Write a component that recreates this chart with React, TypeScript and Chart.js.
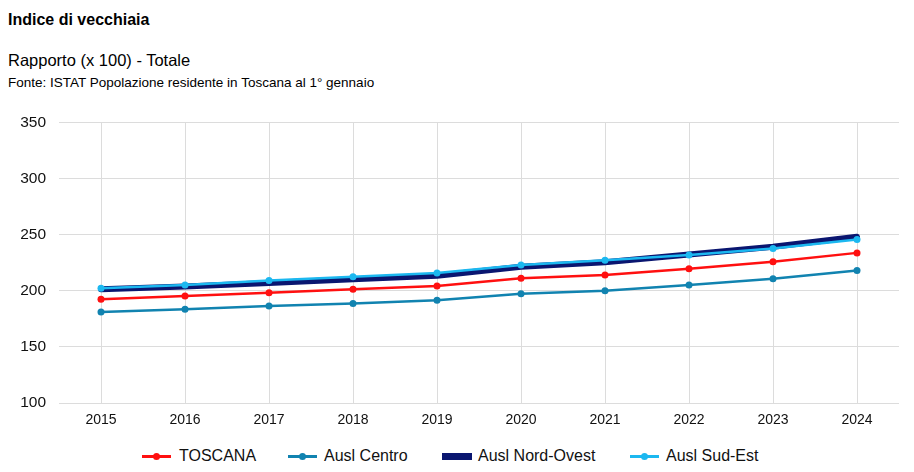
import React, { useEffect, useRef } from "react";
import { Chart, registerables } from "chart.js";

Chart.register(...registerables);

const years = ["2015", "2016", "2017", "2018", "2019", "2020", "2021", "2022", "2023", "2024"];
const toscana = [192.5, 195.2, 198.3, 201.2, 204.3, 211.2, 214.1, 219.5, 225.7, 233.7];
const auslCentro = [181.0, 183.6, 186.3, 188.7, 191.6, 197.2, 199.9, 205.0, 210.6, 218.0];
const auslNordOvest = [201.3, 203.8, 206.8, 210.2, 213.4, 221.3, 225.4, 232.3, 239.1, 248.0];
const auslSudEst = [202.3, 205.2, 209.2, 212.4, 215.7, 223.0, 227.2, 231.9, 237.6, 245.6];
const yTicks = [100, 150, 200, 250, 300, 350];

const seriesNames = ["TOSCANA", "Ausl Centro", "Ausl Nord-Ovest", "Ausl Sud-Est"];
const seriesColors = ["#ff1010", "#1183b0", "#0a1670", "#1cb8f0"];

const FONT = "'Liberation Sans', Arial, Helvetica, sans-serif";

export default function App() {
  const ref = useRef<HTMLCanvasElement | null>(null);

  useEffect(() => {
    if (!ref.current) return;
    const mk = (i: number, data: number[], extra: any = {}) => ({
      label: seriesNames[i],
      data,
      borderColor: seriesColors[i],
      backgroundColor: seriesColors[i],
      borderWidth: 2.5,
      pointRadius: 3.5,
      pointHoverRadius: 3.5,
      pointBorderWidth: 0,
      tension: 0,
      fill: false,
      order: 1,
      ...extra,
    });
    const chart = new Chart(ref.current, {
      type: "line",
      data: {
        labels: years,
        datasets: [
          mk(0, toscana),
          mk(1, auslCentro),
          mk(2, auslNordOvest, {
            borderWidth: 6,
            pointRadius: 0,
            borderCapStyle: "round",
            borderJoinStyle: "round",
            order: 5,
          }),
          mk(3, auslSudEst),
        ],
      },
      options: {
        animation: false,
        responsive: false,
        maintainAspectRatio: false,
        layout: { padding: { left: 0, right: 15, top: 22, bottom: 0 } },
        plugins: {
          legend: { display: false },
          tooltip: { enabled: false },
          title: { display: false },
        },
        scales: {
          x: {
            offset: true,
            grid: { offset: false, color: "#dcdcdc", lineWidth: 1, drawTicks: false },
            border: { display: false },
            ticks: {
              color: "#111",
              font: { family: FONT, size: 14 },
              padding: 9,
              maxRotation: 0,
            },
            afterFit: (s: any) => {
              s.height = 35;
            },
          },
          y: {
            min: 100,
            max: 350,
            grid: { color: "#dcdcdc", lineWidth: 1, drawTicks: false },
            border: { display: false },
            afterBuildTicks: (s: any) => {
              s.ticks = yTicks.map((v) => ({ value: v }));
            },
            ticks: {
              color: "#111",
              font: { family: FONT, size: 15.5 },
              padding: 13,
            },
            afterFit: (s: any) => {
              s.width = 59;
            },
          },
        },
      },
    });
    return () => chart.destroy();
  }, []);

  const legendItem = (i: number, left: number, textLeft: number) => {
    const isRect = i === 2;
    return (
      <React.Fragment key={i}>
        {isRect ? (
          <div
            style={{
              position: "absolute",
              left,
              top: 453,
              width: 30,
              height: 7,
              background: seriesColors[i],
            }}
          />
        ) : (
          <>
            <div
              style={{
                position: "absolute",
                left,
                top: 455,
                width: 29,
                height: 3,
                background: seriesColors[i],
              }}
            />
            <div
              style={{
                position: "absolute",
                left: left + 11,
                top: 453,
                width: 7,
                height: 7,
                borderRadius: "50%",
                background: seriesColors[i],
              }}
            />
          </>
        )}
        <div
          style={{
            position: "absolute",
            left: textLeft,
            top: 447,
            fontSize: 16,
            lineHeight: "18px",
            color: "#111",
            whiteSpace: "nowrap",
          }}
        >
          {seriesNames[i]}
        </div>
      </React.Fragment>
    );
  };

  return (
    <div
      style={{
        position: "absolute",
        left: 0,
        top: 0,
        width: 914,
        height: 472,
        background: "#fff",
        fontFamily: FONT,
        overflow: "hidden",
      }}
    >
      <div
        style={{
          position: "absolute",
          left: 8,
          top: 11.5,
          fontSize: 16,
          lineHeight: "16px",
          fontWeight: "bold",
          color: "#000",
          whiteSpace: "nowrap",
        }}
      >
        Indice di vecchiaia
      </div>
      <div
        style={{
          position: "absolute",
          left: 8,
          top: 52,
          fontSize: 16.5,
          lineHeight: "16.5px",
          color: "#000",
          whiteSpace: "nowrap",
        }}
      >
        Rapporto (x 100) - Totale
      </div>
      <div
        style={{
          position: "absolute",
          left: 8,
          top: 75.5,
          fontSize: 13.5,
          lineHeight: "13.5px",
          color: "#000",
          whiteSpace: "nowrap",
        }}
      >
        Fonte: ISTAT Popolazione residente in Toscana al 1° gennaio
      </div>
      <div style={{ position: "absolute", left: 0, top: 100, width: 914, height: 338 }}>
        <canvas ref={ref} width={914} height={338} style={{ width: 914, height: 338, display: "block" }} />
      </div>
      {legendItem(0, 142, 179)}
      {legendItem(1, 288, 324)}
      {legendItem(2, 442, 478)}
      {legendItem(3, 630, 666)}
    </div>
  );
}
